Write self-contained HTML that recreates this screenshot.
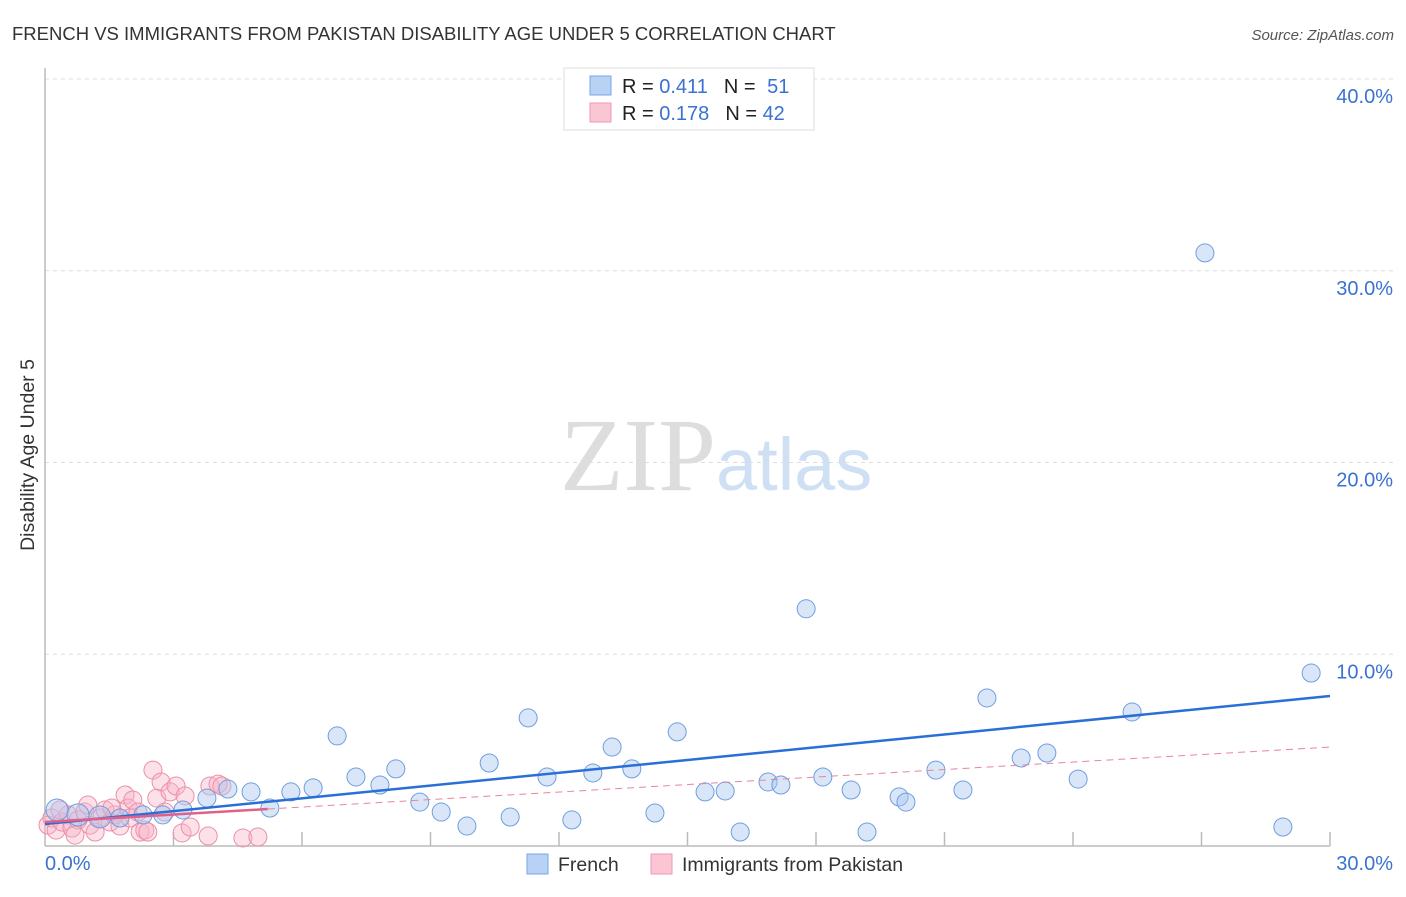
<!DOCTYPE html>
<html><head><meta charset="utf-8"><style>
body{margin:0;background:#fff;font-family:"Liberation Sans",sans-serif}
svg text{font-family:"Liberation Sans",sans-serif}
</style></head><body>
<svg width="1406" height="892" viewBox="0 0 1406 892">
<text x="12" y="40" font-size="18.5" fill="#333">FRENCH VS IMMIGRANTS FROM PAKISTAN DISABILITY AGE UNDER 5 CORRELATION CHART</text>
<text x="1394" y="40" font-size="15" fill="#555" font-style="italic" text-anchor="end">Source: ZipAtlas.com</text>
<g id="grid"></g>
<text x="716" y="490" font-size="104" fill="#ddd" text-anchor="end" style="font-family:'Liberation Serif',serif">ZIP</text>
<text x="716" y="490" font-size="74" fill="#cfe0f5">atlas</text>
<text x="34" y="455" font-size="19.5" fill="#333" text-anchor="middle" transform="rotate(-90 34 455)">Disability Age Under 5</text>
<g id="pts"></g>
<g id="trend"></g>
<g>
<rect x="564" y="68" width="250" height="62" fill="#fff" stroke="#ddd"/>
<rect x="590" y="76" width="21" height="19" fill="#b8d2f5" stroke="#7aa6e6"/>
<rect x="590" y="103" width="21" height="19" fill="#fac6d4" stroke="#ee9ab0"/>
<text x="622" y="93" font-size="20" fill="#222">R = <tspan fill="#3a72d0">0.411</tspan><tspan dx="16">N = </tspan><tspan dx="6" fill="#3a72d0">51</tspan></text>
<text x="622" y="120" font-size="20" fill="#222">R = <tspan fill="#3a72d0">0.178</tspan><tspan dx="16">N = </tspan><tspan fill="#3a72d0">42</tspan></text>
</g>
<g>
<rect x="527" y="854" width="21" height="20" fill="#b8d2f5" stroke="#7aa6e6"/>
<text x="558" y="871" font-size="19.5" fill="#333">French</text>
<rect x="651" y="854" width="21" height="20" fill="#fac6d4" stroke="#ee9ab0"/>
<text x="682" y="871" font-size="19.5" fill="#333">Immigrants from Pakistan</text>
</g>
</svg>
<script>
const yTicks=[10,20,30,40];
const yTickLabels=["10.0%","20.0%","30.0%","40.0%"];
const xTickVals=[3,6,9,12,15,18,21,24,27,30];
const frenchX=[0.28,0.77,1.28,1.75,2.29,2.75,3.22,3.78,4.27,4.81,5.25,5.74,6.26,6.82,7.26,7.82,8.19,8.75,9.25,9.85,10.37,10.86,11.28,11.72,12.30,12.79,13.24,13.70,14.24,14.76,15.41,15.88,16.23,16.88,17.18,17.77,18.16,18.82,19.19,19.94,20.10,20.80,21.43,21.99,22.79,23.39,24.12,25.38,27.08,28.90,29.56];
const frenchY=[1.88,1.62,1.51,1.46,1.62,1.62,1.88,2.50,2.97,2.82,1.98,2.82,3.03,5.74,3.60,3.18,4.02,2.29,1.77,1.04,4.33,1.51,6.68,3.60,1.36,3.81,5.16,4.02,1.72,5.95,2.82,2.87,0.73,3.34,3.18,12.37,3.60,2.92,0.73,2.56,2.29,3.96,2.92,7.72,4.59,4.85,3.49,6.99,30.93,0.99,9.02];
const pakX=[0.07,0.16,0.26,0.40,0.54,0.63,0.77,0.93,1.05,1.17,1.28,1.40,1.52,1.63,1.75,1.87,1.94,2.05,2.22,2.33,2.40,2.52,2.61,2.71,2.80,2.92,3.06,3.20,3.27,3.39,3.81,3.85,4.04,4.13,4.62,4.97,1.98,2.17,0.35,1.00,1.56,0.70];
const pakY=[1.09,1.46,0.83,1.25,1.62,0.94,1.36,1.77,1.09,0.73,1.46,1.88,1.25,1.62,1.04,2.66,1.98,2.40,0.73,0.83,0.73,3.96,2.50,3.34,1.77,2.82,3.13,0.68,2.61,0.99,0.52,3.13,3.23,3.13,0.42,0.47,1.46,1.77,1.88,2.14,1.98,0.57];
const X0=45,X1=1330,Y0=846,Y1=79;
const xs=v=>X0+(X1-X0)*v/30, ys=v=>Y0-(Y0-Y1)*v/40;
const NS="http://www.w3.org/2000/svg";
function mk(t,a,p){const e=document.createElementNS(NS,t);for(const k in a)e.setAttribute(k,a[k]);p.appendChild(e);return e;}
const g=document.getElementById('grid');
yTicks.forEach((v,i)=>{
 const l=mk('line',{x1:X0,x2:1393,y1:ys(v),y2:ys(v),stroke:'#ddd','stroke-dasharray':'4 4'},g);
 
 
 const t=mk('text',{x:1393,y:ys(v)+24,'font-size':20,fill:'#3a72d0','text-anchor':'end'},g);
 t.textContent=yTickLabels[i];
 
 
});
const ax=mk('line',{x1:X0,x2:X0,y1:68,y2:Y0,stroke:'#bbb','stroke-width':1.5},g);


const bx=mk('line',{x1:X0,x2:X1,y1:Y0,y2:Y0,stroke:'#bbb','stroke-width':1.5},g);


xTickVals.forEach(v=>{const t=mk('line',{x1:xs(v),x2:xs(v),y1:Y0-14,y2:Y0,stroke:'#bbb','stroke-width':1.5},g);
 
 });
const xl0=mk('text',{x:45,y:870,'font-size':20,fill:'#3a72d0'},g);xl0.textContent='0.0%';


const xl1=mk('text',{x:1393,y:870,'font-size':20,fill:'#3a72d0','text-anchor':'end'},g);xl1.textContent='30.0%';


const pg=document.getElementById('pts');
pakX.forEach((v,i)=>{const c=mk('circle',{cx:xs(v),cy:ys(pakY[i]),r:9,fill:'rgba(248,180,200,0.4)',stroke:'#ec8fa8','stroke-width':1},pg);
 
 });
frenchX.forEach((v,i)=>{const c=mk('circle',{cx:xs(v),cy:ys(frenchY[i]),r:(v<1.5?11:9),fill:'rgba(170,200,240,0.45)',stroke:'#6f9ee0','stroke-width':1},pg);
 
 });
const tg=document.getElementById('trend');
const pd=mk('line',{x1:xs(5.2),y1:ys(1.25+3.91*5.2/30),x2:xs(30),y2:ys(5.16),stroke:'#e8849f','stroke-width':1,'stroke-dasharray':'7 5'},tg);


const bl=mk('line',{x1:xs(0),y1:ys(1.15),x2:xs(30),y2:ys(7.82),stroke:'#2a6fd6','stroke-width':2.5},tg);


const ps=mk('line',{x1:xs(0),y1:ys(1.25),x2:xs(5.2),y2:ys(1.25+3.91*5.2/30),stroke:'#e0608a','stroke-width':2.5},tg);


</script>
</body></html>
